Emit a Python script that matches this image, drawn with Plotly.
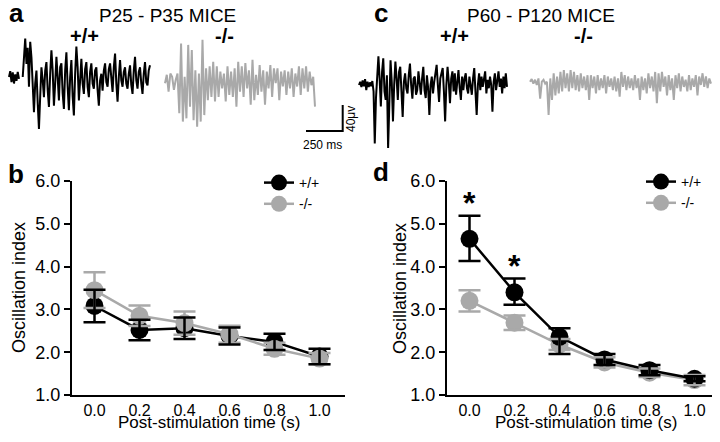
import numpy as np
import plotly.graph_objects as go

# ---------------- data: oscillation index (mean +/- SEM) ----------------
time_s = [0.0, 0.2, 0.4, 0.6, 0.8, 1.0]
x_tick_labels = ["0.0", "0.2", "0.4", "0.6", "0.8", "1.0"]
y_tick_vals = [1, 2, 3, 4, 5, 6]

young_wt_mean = [3.08, 2.52, 2.56, 2.38, 2.24, 1.90]
young_wt_sem = [0.38, 0.24, 0.25, 0.20, 0.19, 0.18]
young_ko_mean = [3.45, 2.85, 2.68, 2.42, 2.08, 1.85]
young_ko_sem = [0.42, 0.24, 0.27, 0.20, 0.14, 0.13]

adult_wt_mean = [4.65, 3.40, 2.36, 1.83, 1.58, 1.38]
adult_wt_sem_up = [0.54, 0.32, 0.20, 0.13, 0.12, 0.06]
adult_wt_sem_dn = [0.52, 0.29, 0.40, 0.13, 0.12, 0.06]
adult_ko_mean = [3.20, 2.69, 2.18, 1.76, 1.52, 1.35]
adult_ko_sem = [0.25, 0.17, 0.13, 0.12, 0.10, 0.12]
adult_significant = [True, True, False, False, False, False]

# ---------------- data: example field-potential traces (uV, uniform sampling) ----------------
trace_a_wt = [0, 9, -8, 7, -10, 4, -6, 8, -3, None, None,
              0, 30, 59, 20, 45, -15, 54, 30, -20, -54, -10, 10, -40, -80, -30, 15, -5, -31,
              10, 23, -20, -46, 5, 41, 10, -44, -10, 31, 0, -36, 15, 21, -25, -49, 10, 38, -15,
              -51, 0, 26, -30, -59, 5, 47, 15, -36, -5, 28, -10, -26, 12, 23, -15, -31, 8, 21,
              -10, -18, 10, 15, -20, -44, -5, 5, -21, 10, 21, -8, -15, 12, 21, -10, -23, 15, 36,
              -10, -38, 0, 26, -5, -15, 8, 15, -10, -18, 5, 18, -12, -26, 10, 31, -5, -18, 8,
              15, -10, -26, 5, 23, -8, -13, 10, 18]
trace_a_ko = [-5, 8, -18, 10, 5, -15, 0, 10, -51, 56, -64, 5, -59, 54, -41, 46, -62, 15, -72,
              10, -64, 62, -54, 18, -31, 21, -26, 28, -33, 21, -26, 13, -13, 10, -33, 21, -23,
              13, -26, 18, -41, 28, -18, 21, -26, 26, -13, 15, -38, 31, -31, 8, -23, 23, -18,
              15, -38, 13, -13, 23, -26, 18, -5, 18, -31, 13, -10, 15, -23, 13, -13, 18, -26,
              10, -10, 21, -23, 18, -13, 21, -18, 13, -8, 5, -41]
trace_c_wt = [0, 5, -3, 7, -2, 9, -8, 5, -3, 4, -2, 6,
              -10, -90, -20, 18, 44, 10, -33, 20, 41, -10, -23, 15, -97, -30, 38, 5, -56, 0, 36,
              10, -23, 20, 28, -10, -49, 5, 18, -5, -13, 15, 33, 0, -21, 10, 13, -15, -8, 21, 5,
              -15, 10, 28, -8, -20, 15, -5, -46, 0, 13, -13, 5, 18, 31, 0, -26, 10, 18, 26, -10,
              -56, 0, 28, 5, -28, 10, 21, -10, 18, -15, 5, 23, -5, -23, 13, -8, 10, 18, -5, -13,
              13, -2, -15, 10, 26, -10, -46, 0, 18, -8, 13, -3, 10, 21, -13, 8, -5, 13, 0, -41, 5,
              18, -8, 10, 21, -3, 10, -13, 13, -5, 18, -3]
trace_c_ko = [0, 4, -3, 3, -5, 5, -26, 0, 3, -3, 0, -51, 5, -28, 13, -21, 8, -18, 15, -15, 18,
              -10, 13, -15, 18, -10, 15, -13, 10, -15, 13, -10, 8, -13, 10, -28, 10, -10, 8, -18,
              10, -13, 5, -10, 10, -18, 8, -8, 5, -13, 8, -15, 5, -23, 15, -8, 10, -13, 8, -10,
              5, -13, 10, -10, 5, -28, 8, -13, 5, -18, 13, -10, 8, -15, 15, -33, 13, -15, 15,
              -8, 8, -21, 10, -13, 5, -28, 10, -10, 13, -15, 8, -8, 3, -15, 10, -13, 5, -8, 10,
              -21, 8, -5, 13, -8, 8, -10, 5, -3]
scale_ms = 250
scale_uv = 40

# ---------------- styling / layout constants ----------------
# The page body keeps the browser's default 8 px margin, so the figure is made
# 16 px smaller than the window and every target position is shifted by 8 px.
OFF = 8
W, H = 720 - 2 * OFF, 442 - 2 * OFF
FONT = "Liberation Sans, Arial, Helvetica, sans-serif"
BLACK = "#000000"
GRAY = "#a9a9a9"

PX_PER_MS = 36.7 / scale_ms
PX_PER_UV = 26.0 / scale_uv
TOP_PX, BOT_PX, ZERO_PX = 20, 150, 85


def px_ms(px):
    return px / PX_PER_MS


def py_uv(py):
    return (ZERO_PX - py) / PX_PER_UV


def fx(px):  # window pixel -> paper fraction
    return (px - OFF) / W


def fy(py):
    return 1 - (py - OFF) / H


fig = go.Figure()

# ---------------- example traces ----------------
placements = [
    (trace_a_wt, 9, 150, 77, BLACK),
    (trace_a_ko, 165, 315, 80, GRAY),
    (trace_c_wt, 359, 507, 85, BLACK),
    (trace_c_ko, 530, 711, 81.7, GRAY),
]
for vals, x0, x1, base, col in placements:
    t = np.linspace(px_ms(x0), px_ms(x1), len(vals))
    off = py_uv(base)
    y = [None if v is None else v + off for v in vals]
    fig.add_trace(go.Scatter(x=t, y=y, mode="lines", line=dict(color=col, width=2),
                             xaxis="x3", yaxis="y3", showlegend=False, hoverinfo="skip"))

# scale bar
cx, cy = px_ms(342.7), py_uv(131)
fig.add_trace(go.Scatter(x=[cx - scale_ms, cx, cx], y=[cy, cy, cy + scale_uv], mode="lines",
                         line=dict(color=BLACK, width=2), xaxis="x3", yaxis="y3",
                         showlegend=False, hoverinfo="skip"))

# ---------------- panel b ----------------
MS = 18
LW = 2.5
fig.add_trace(go.Scatter(x=time_s, y=young_wt_mean, mode="lines+markers", name="+/+",
                         line=dict(color=BLACK, width=LW), marker=dict(size=MS, color=BLACK),
                         xaxis="x", yaxis="y", legend="legend", legendrank=1))
fig.add_trace(go.Scatter(x=time_s, y=young_ko_mean, mode="lines+markers", name="-/-",
                         line=dict(color=GRAY, width=LW), marker=dict(size=MS, color=GRAY),
                         xaxis="x", yaxis="y", legend="legend", legendrank=2))
for mean, err, col in [(young_ko_mean, young_ko_sem, GRAY), (young_wt_mean, young_wt_sem, BLACK)]:
    fig.add_trace(go.Scatter(x=time_s, y=mean, mode="markers", marker=dict(size=1, opacity=0),
                             error_y=dict(type="data", array=err, color=col, thickness=2.5, width=11),
                             xaxis="x", yaxis="y", showlegend=False, hoverinfo="skip"))

# ---------------- panel d ----------------
fig.add_trace(go.Scatter(x=time_s, y=adult_ko_mean, mode="lines+markers", name="-/-",
                         line=dict(color=GRAY, width=LW), marker=dict(size=MS, color=GRAY),
                         xaxis="x2", yaxis="y2", legend="legend2", legendrank=2))
fig.add_trace(go.Scatter(x=time_s, y=adult_wt_mean, mode="lines+markers", name="+/+",
                         line=dict(color=BLACK, width=LW), marker=dict(size=MS, color=BLACK),
                         xaxis="x2", yaxis="y2", legend="legend2", legendrank=1))
fig.add_trace(go.Scatter(x=time_s, y=adult_ko_mean, mode="markers", marker=dict(size=1, opacity=0),
                         error_y=dict(type="data", array=adult_ko_sem, color=GRAY, thickness=2.5, width=11),
                         xaxis="x2", yaxis="y2", showlegend=False, hoverinfo="skip"))
fig.add_trace(go.Scatter(x=time_s, y=adult_wt_mean, mode="markers", marker=dict(size=1, opacity=0),
                         error_y=dict(type="data", symmetric=False, array=adult_wt_sem_up,
                                      arrayminus=adult_wt_sem_dn, color=BLACK, thickness=2.5, width=11),
                         xaxis="x2", yaxis="y2", showlegend=False, hoverinfo="skip"))

# ---------------- annotations ----------------
ann = []


def text(t, px, py, size, bold=False, angle=0, xanchor="center", yanchor="middle"):
    ann.append(dict(text=f"<b>{t}</b>" if bold else t, x=fx(px), y=fy(py), xref="paper",
                    yref="paper", showarrow=False, textangle=angle, xanchor=xanchor,
                    yanchor=yanchor, font=dict(size=size, color=BLACK, family=FONT)))


AX_TOP, AX_BOT = 181, 395

text("a", 16, 13, 26, bold=True)
text("c", 381, 13, 26, bold=True)
text("b", 16, 174, 26, bold=True)
text("d", 381, 172, 26, bold=True)
text("P25 - P35 MICE", 167, 15, 19)
text("P60 - P120 MICE", 541, 15, 19)
text("+/+", 84, 36, 20, bold=True)
text("-/-", 224, 36, 20, bold=True)
text("+/+", 454, 36, 20, bold=True)
text("-/-", 583, 36, 20, bold=True)
text("250 ms", 322, 145, 12)
text("40\u03bcv", 351, 119, 12, angle=-90)
text("Oscillation index", 19, (AX_TOP + AX_BOT) / 2, 18, angle=-90)
text("Oscillation index", 400, (AX_TOP + AX_BOT) / 2, 18, angle=-90)
text("Post-stimulation time (s)", 209, 434, 17, yanchor="bottom")
text("Post-stimulation time (s)", 586, 434, 17, yanchor="bottom")

STAR_GAP = 0.45
for xi, m, e, sig in zip(time_s, adult_wt_mean, adult_wt_sem_up, adult_significant):
    if sig:
        ann.append(dict(text="<b>*</b>", x=xi, y=m + e + STAR_GAP, xref="x2", yref="y2",
                        showarrow=False, yanchor="middle", yshift=-7,
                        font=dict(size=32, color=BLACK, family=FONT)))

# ---------------- axes ----------------
PX_PER_UNIT = 225.0
YDOM = [fy(AX_BOT), fy(AX_TOP)]
B_LEFT, B_RIGHT = 72, 344.5
D_LEFT, D_RIGHT = 447, 712
common_x = dict(tickvals=time_s, ticktext=x_tick_labels, showline=True, automargin=False,
                linewidth=2, linecolor=BLACK, ticks="", showgrid=False, zeroline=False,
                tickfont=dict(size=16, color=BLACK, family=FONT), fixedrange=True)
common_y = dict(range=[1, 6], tickvals=y_tick_vals, tickformat=".1f", showline=True,
                automargin=False,
                linewidth=2, linecolor=BLACK, ticks="outside", ticklen=6, tickwidth=2,
                tickcolor=BLACK, showgrid=False, zeroline=False,
                tickfont=dict(size=18, color=BLACK, family=FONT), fixedrange=True)

fig.update_layout(
    width=W, height=H, autosize=False,
    margin=dict(l=0, r=0, t=0, b=0, pad=0, autoexpand=False),
    paper_bgcolor="white", plot_bgcolor="white",
    font=dict(family=FONT, color=BLACK),
    xaxis=dict(domain=[fx(B_LEFT), fx(B_RIGHT)], anchor="y",
               range=[-0.1, -0.1 + (B_RIGHT - B_LEFT) / PX_PER_UNIT], **common_x),
    yaxis=dict(domain=YDOM, anchor="x", **common_y),
    xaxis2=dict(domain=[fx(D_LEFT), fx(D_RIGHT)], anchor="y2",
                range=[-0.1, -0.1 + (D_RIGHT - D_LEFT) / PX_PER_UNIT], **common_x),
    yaxis2=dict(domain=YDOM, anchor="x2", **common_y),
    xaxis3=dict(domain=[0, 1], range=[px_ms(OFF), px_ms(OFF + W)], visible=False, anchor="y3",
                fixedrange=True, automargin=False),
    yaxis3=dict(domain=[fy(BOT_PX), fy(TOP_PX)], range=[py_uv(BOT_PX), py_uv(TOP_PX)],
                visible=False, anchor="x3", fixedrange=True, automargin=False),
    legend=dict(x=fx(259), y=fy(167), xanchor="left", yanchor="top", bgcolor="rgba(0,0,0,0)",
                font=dict(size=14, color=BLACK, family=FONT), itemsizing="trace", tracegroupgap=0),
    legend2=dict(x=fx(641), y=fy(166), xanchor="left", yanchor="top", bgcolor="rgba(0,0,0,0)",
                 font=dict(size=14, color=BLACK, family=FONT), itemsizing="trace", tracegroupgap=0),
    annotations=ann,
    showlegend=True,
)

fig.write_html("out.html", config={"displayModeBar": False})
